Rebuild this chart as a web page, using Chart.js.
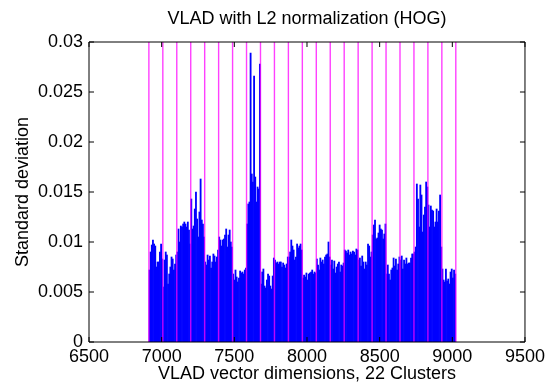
<!DOCTYPE html>
<html>
<head>
<meta charset="utf-8">
<title>VLAD with L2 normalization (HOG)</title>
<script src="https://cdn.jsdelivr.net/npm/chart.js@4.4.1/dist/chart.umd.min.js"></script>
<style>
  html, body { margin: 0; padding: 0; background: #fff; }
  #wrap { width: 549px; height: 385px; }
</style>
</head>
<body>
<div id="wrap"><canvas id="chart" width="549" height="385"></canvas></div>
<script>
// =====================================================
// DATA  (std. deviation x 1e-3, one bar = 8 dims, 12 bars per cluster)
// =====================================================
const firstDim = 6912;
const dimsPerBar = 8;

const cluster01 = [7.2, 9.0, 9.7, 10.2, 9.8, 9.6, 7.5, 8.0, 8.0, 9.0, 9.8, 8.3];
const cluster02 = [5.5, 8.2, 9.0, 8.7, 5.8, 6.8, 7.5, 8.5, 8.3, 7.2, 7.8, 8.7];
const cluster03 = [9.0, 11.3, 10.0, 11.6, 11.5, 11.8, 12.0, 11.8, 11.5, 12.0, 11.2, 9.8];
const cluster04 = [14.3, 11.3, 11.6, 13.3, 15.0, 12.3, 10.5, 13.0, 16.3, 12.2, 11.8, 10.5];
const cluster05 = [8.0, 7.7, 8.7, 8.2, 8.6, 7.4, 8.0, 8.8, 8.6, 8.0, 8.5, 9.2];
const cluster06 = [10.5, 10.2, 9.6, 10.2, 10.3, 10.7, 11.3, 9.5, 10.7, 11.2, 10.0, 9.5];
const cluster07 = [6.8, 6.2, 7.2, 6.5, 6.0, 6.4, 7.1, 6.9, 7.0, 6.8, 7.2, 7.4];
const cluster08 = [11.8, 13.8, 14.0, 28.9, 16.8, 16.0, 26.6, 16.5, 14.0, 15.5, 15.3, 27.8];
const cluster09 = [5.8, 7.0, 7.3, 5.6, 5.4, 6.2, 6.8, 6.6, 5.6, 5.3, 6.6, 8.4];
const cluster10 = [8.2, 7.9, 8.0, 7.8, 8.0, 8.0, 7.5, 7.9, 7.7, 7.4, 7.8, 8.5];
const cluster11 = [8.5, 9.0, 10.2, 9.6, 9.2, 8.2, 8.5, 9.8, 9.4, 9.6, 9.8, 9.2];
const cluster12 = [6.4, 6.7, 6.5, 6.9, 6.2, 6.8, 6.9, 7.0, 7.2, 6.8, 7.0, 6.9];
const cluster13 = [8.3, 7.7, 7.2, 8.4, 8.0, 8.2, 7.8, 8.5, 8.7, 8.8, 10.0, 8.5];
const cluster14 = [7.7, 8.2, 7.3, 8.1, 6.9, 7.5, 7.8, 8.0, 7.0, 7.7, 7.6, 7.9];
const cluster15 = [9.2, 9.1, 8.9, 9.2, 8.7, 9.0, 8.8, 9.1, 9.0, 8.7, 9.3, 9.2];
const cluster16 = [8.2, 8.4, 7.6, 8.6, 8.0, 7.3, 8.0, 7.7, 9.8, 9.6, 8.5, 9.0];
const cluster17 = [10.7, 11.7, 12.2, 10.3, 10.4, 10.9, 11.7, 11.3, 11.2, 10.3, 10.8, 11.8];
const cluster18 = [6.8, 7.7, 6.8, 6.2, 7.2, 7.4, 8.4, 7.6, 8.3, 7.2, 7.8, 8.5];
const cluster19 = [8.2, 8.6, 7.3, 8.2, 7.8, 8.4, 7.8, 7.9, 7.9, 8.4, 8.8, 8.8];
const cluster20 = [9.0, 9.5, 15.8, 14.3, 11.5, 15.7, 14.7, 11.0, 12.7, 13.5, 16.0, 15.5];
const cluster21 = [13.7, 11.5, 13.6, 13.2, 13.1, 11.5, 12.0, 13.3, 12.0, 13.1, 14.7, 9.5];
const cluster22 = [7.3, 6.2, 6.0, 7.3, 6.1, 6.3, 5.8, 7.0, 7.3, 6.4, 7.2, 6.8];

const clusterEdges = [6912, 7008, 7104, 7200, 7296, 7392, 7488, 7584, 7680, 7776, 7872, 7968,
  8064, 8160, 8256, 8352, 8448, 8544, 8640, 8736, 8832, 8928, 9024];

const xTicks = [6500, 7000, 7500, 8000, 8500, 9000, 9500];
const yTicks = [0, 0.005, 0.01, 0.015, 0.02, 0.025, 0.03];
const yTickLabels = ["0", "0.005", "0.01", "0.015", "0.02", "0.025", "0.03"];

// =====================================================
// POINTS POUR CHART.JS
// =====================================================
const clusters = [cluster01, cluster02, cluster03, cluster04, cluster05, cluster06, cluster07,
  cluster08, cluster09, cluster10, cluster11, cluster12, cluster13, cluster14, cluster15,
  cluster16, cluster17, cluster18, cluster19, cluster20, cluster21, cluster22];

const barPoints = [];
let barIndex = 0;
clusters.forEach((vals) => {
  vals.forEach((v) => {
    barPoints.push({ x: firstDim + barIndex * dimsPerBar + dimsPerBar / 2, y: v / 1000 });
    barIndex++;
  });
});

const edgePoints = [];
clusterEdges.forEach((e) => {
  edgePoints.push({ x: e, y: yTicks[0] }, { x: e, y: yTicks[yTicks.length - 1] }, { x: e, y: null });
});

// =====================================================
// CADRE + GRADUATIONS VERS L'INTÉRIEUR (style MATLAB)
// =====================================================
const matlabBox = {
  id: "matlabBox",
  afterDraw(chart) {
    const { ctx, chartArea: a, scales } = chart;
    const tick = 5;
    ctx.save();
    ctx.strokeStyle = "#000";
    ctx.lineWidth = 1;
    ctx.beginPath();
    ctx.rect(a.left, a.top, a.right - a.left, a.bottom - a.top);
    xTicks.forEach((v) => {
      const px = scales.x.getPixelForValue(v);
      ctx.moveTo(px, a.bottom); ctx.lineTo(px, a.bottom - tick);
      ctx.moveTo(px, a.top); ctx.lineTo(px, a.top + tick);
    });
    yTicks.forEach((v) => {
      const py = scales.y.getPixelForValue(v);
      ctx.moveTo(a.left, py); ctx.lineTo(a.left + tick, py);
      ctx.moveTo(a.right, py); ctx.lineTo(a.right - tick, py);
    });
    ctx.stroke();
    ctx.restore();
  }
};

Chart.defaults.font.family = "'Liberation Sans', Arial, Helvetica, sans-serif";
Chart.defaults.color = "#000";

new Chart(document.getElementById("chart"), {
  type: "bar",
  data: {
    datasets: [
      {
        type: "line",
        data: edgePoints,
        borderColor: "rgba(255, 0, 255, 0.75)",
        borderWidth: 1.4,
        pointRadius: 0,
        spanGaps: false,
        order: 0
      },
      {
        type: "bar",
        data: barPoints,
        backgroundColor: "#0000ff",
        borderWidth: 0,
        barPercentage: 1,
        categoryPercentage: 1,
        grouped: false,
        order: 1
      }
    ]
  },
  options: {
    responsive: false,
    animation: false,
    layout: { padding: { left: 0, right: 22.5, top: 0, bottom: 0 } },
    plugins: {
      legend: { display: false },
      tooltip: { enabled: false },
      title: {
        display: true,
        text: "VLAD with L2 normalization (HOG)",
        fullSize: false,
        font: { size: 18, weight: "normal" },
        padding: { top: 8, bottom: 12.4 }
      }
    },
    scales: {
      x: {
        type: "linear",
        min: 6500,
        max: 9500,
        offset: false,
        afterBuildTicks: (s) => { s.ticks = xTicks.map((v) => ({ value: v })); },
        afterFit: (s) => { s.height = 43; },
        grid: { display: false, drawTicks: false },
        border: { display: false },
        ticks: { font: { size: 18 }, padding: 4, maxRotation: 0, autoSkip: false, callback: (v) => String(v) },
        title: { display: true, text: "VLAD vector dimensions, 22 Clusters", font: { size: 18 }, padding: { top: 0, bottom: 0 } }
      },
      y: {
        min: 0,
        max: 0.03,
        afterBuildTicks: (s) => { s.ticks = yTicks.map((v) => ({ value: v })); },
        afterFit: (s) => { s.width = 89; },
        grid: { display: false, drawTicks: false },
        border: { display: false },
        ticks: { font: { size: 18 }, padding: 6, callback: (v, i) => yTickLabels[i] },
        title: { display: true, text: "Standard deviation", font: { size: 18 }, padding: { top: 12, bottom: 0 } }
      }
    }
  },
  plugins: [matlabBox]
});
</script>
</body>
</html>
